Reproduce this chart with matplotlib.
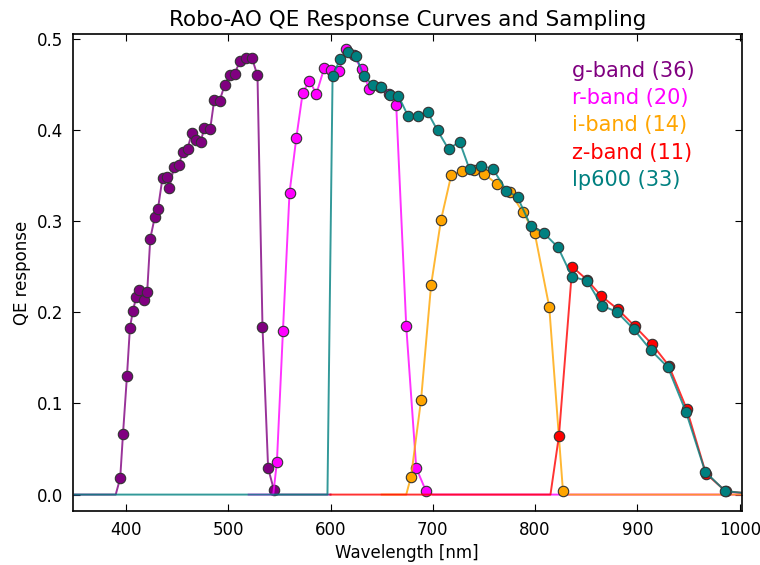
import matplotlib
matplotlib.use('Agg')
import matplotlib.pyplot as plt


# sampled QE points per band: wavelength [nm], response
g_wl = [394.4, 397.1, 401.0, 403.9, 406.8, 410.1, 413.0, 417.6, 420.8, 423.8,
        428.3, 431.3, 435.8, 440.1, 442.3, 446.9, 451.4, 456.0, 460.2, 464.5,
        468.4, 472.9, 476.8, 482.4, 486.3, 491.5, 496.4, 501.3, 506.2, 511.7,
        517.3, 523.2, 528.6, 533.5, 539.0, 544.7]
g_qe = [0.018, 0.066, 0.130, 0.183, 0.2015, 0.217, 0.2246, 0.2136, 0.2228, 0.281,
        0.305, 0.3136, 0.348, 0.349, 0.336, 0.359, 0.362, 0.376, 0.3795, 0.397,
        0.389, 0.387, 0.4026, 0.4015, 0.433, 0.432, 0.449, 0.460, 0.462, 0.476,
        0.479, 0.479, 0.460, 0.184, 0.029, 0.005]

r_wl = [547.6, 553.5, 559.9, 566.5, 572.8, 579.4, 586.2, 593.8, 600.7, 608.3,
        615.0, 622.5, 630.3, 638.0, 648.4, 657.0, 664.2, 674.0, 683.8, 693.3]
r_qe = [0.036, 0.180, 0.331, 0.391, 0.441, 0.454, 0.440, 0.468, 0.466, 0.465,
        0.489, 0.482, 0.467, 0.445, 0.447, 0.440, 0.428, 0.185, 0.029, 0.004]

i_wl = [678.7, 688.5, 698.3, 708.0, 718.0, 728.7, 739.8, 750.5, 762.7, 775.0,
        787.7, 799.5, 813.8, 827.2]
i_qe = [0.0196, 0.104, 0.230, 0.3015, 0.3506, 0.3553, 0.356, 0.3517, 0.3407, 0.3326,
        0.3106, 0.2876, 0.206, 0.004]

z_wl = [823.3, 836.3, 850.5, 864.6, 880.9, 897.2, 914.1, 930.7, 948.3, 967.0, 986.5]
z_qe = [0.0646, 0.250, 0.236, 0.218, 0.2034, 0.185, 0.1653, 0.1415, 0.0936, 0.023, 0.0035]

lp_wl = [602.0, 609.2, 617.0, 624.8, 633.0, 641.4, 649.6, 657.8, 666.2, 675.7,
         685.3, 695.0, 704.6, 715.4, 726.1, 735.9, 747.3, 758.7, 771.8, 782.8,
         795.9, 808.2, 822.3, 836.0, 850.8, 865.3, 879.9, 896.2, 913.2, 929.8,
         947.4, 966.3, 985.8]
lp_qe = [0.459, 0.4776, 0.486, 0.481, 0.459, 0.449, 0.4476, 0.4385, 0.438, 0.4157,
         0.4157, 0.4195, 0.3996, 0.379, 0.3875, 0.357, 0.3608, 0.3575, 0.3337, 0.3264,
         0.2945, 0.2873, 0.2715, 0.2392, 0.2347, 0.2074, 0.2005, 0.1818, 0.1584, 0.1397,
         0.091, 0.025, 0.0038]

# where each response curve sits on zero (start of baseline, cut-on, cut-off, end of baseline)
g_zero = [350, 390, 548, 600]
r_zero = [520, 544, 700, 1002]
i_zero = [650, 674, 832, 1002]
z_zero = [600, 815, None, None]
lp_zero = [350, 597, None, None]

bands = [
    ('g-band', g_wl, g_qe, g_zero, 'purple'),
    ('r-band', r_wl, r_qe, r_zero, 'magenta'),
    ('i-band', i_wl, i_qe, i_zero, 'orange'),
    ('z-band', z_wl, z_qe, z_zero, 'red'),
    ('lp600', lp_wl, lp_qe, lp_zero, 'teal'),
]


def curve(wl, qe, zero):
    xs = [zero[0], zero[1]] + list(wl)
    ys = [0, 0] + list(qe)
    if zero[2] is not None:
        xs += [zero[2], zero[3]]
        ys += [0, 0]
    else:
        xs += [1002]
        ys += [0.002]
    return xs, ys


fig = plt.figure(figsize=(7.6, 5.65), dpi=100)
ax = fig.add_axes([0.0957, 0.0956, 0.8803, 0.8434])

for name, wl, qe, zero, col in bands:
    xs, ys = curve(wl, qe, zero)
    ax.plot(xs, ys, '-', color=col, lw=1.4, alpha=0.8)
    ax.plot(wl, qe, 'o', color=col, ms=7.5, mec='#333333', mew=0.8)

for k, (name, wl, qe, zero, col) in enumerate(bands):
    ax.text(0.746, 0.924 - k * 0.0575, '%s (%d)' % (name, len(wl)),
            transform=ax.transAxes, color=col, fontsize=15, ha='left', va='center')

ax.set_xlim(348, 1002)
ax.set_ylim(-0.018, 0.505)
ax.set_xticks([400, 500, 600, 700, 800, 900, 1000])
ax.set_yticks([0.0, 0.1, 0.2, 0.3, 0.4, 0.5])
ax.tick_params(direction='in', top=True, right=True, length=5, labelsize=12, pad=7)
for s in ax.spines.values():
    s.set_linewidth(1.2)

ax.set_xlabel('Wavelength [nm]', fontsize=12)
ax.set_ylabel('QE response', fontsize=12)
ax.set_title('Robo-AO QE Response Curves and Sampling', fontsize=15.5)

plt.savefig('out.png')
